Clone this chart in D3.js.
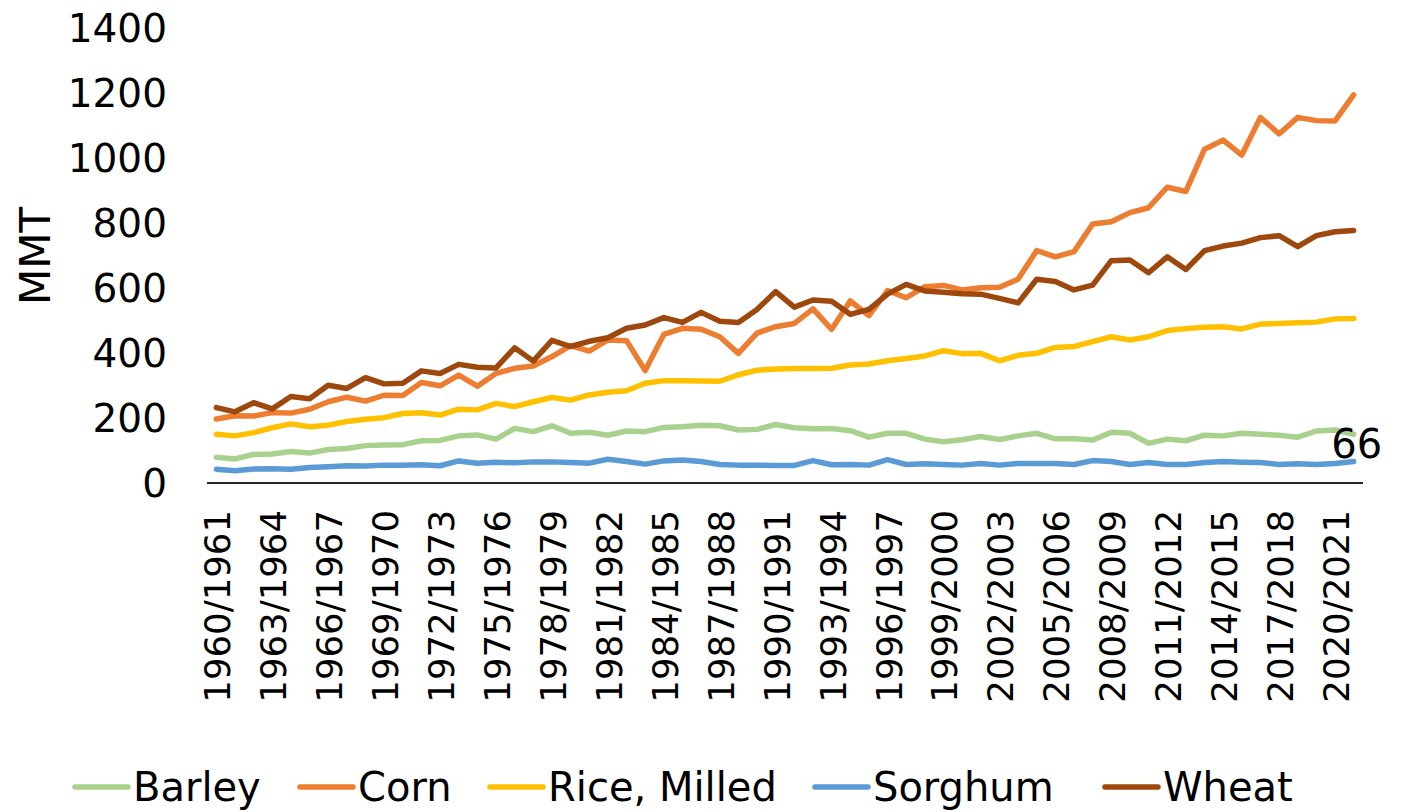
<!DOCTYPE html>
<html>

<head>
  <meta charset="utf-8">
  <script src="https://d3js.org/d3.v7.min.js"></script>
  <style>
    body { margin: 0; background: #fff; }
    text { font-family: "DejaVu Sans", sans-serif; fill: #000; }
  </style>
</head>

<body>
  <div id="my_dataviz"></div>
  <script>
    var years = ["1960/1961", "1961/1962", "1962/1963", "1963/1964", "1964/1965", "1965/1966", "1966/1967",
      "1967/1968", "1968/1969", "1969/1970", "1970/1971", "1971/1972", "1972/1973", "1973/1974", "1974/1975",
      "1975/1976", "1976/1977", "1977/1978", "1978/1979", "1979/1980", "1980/1981", "1981/1982", "1982/1983",
      "1983/1984", "1984/1985", "1985/1986", "1986/1987", "1987/1988", "1988/1989", "1989/1990", "1990/1991",
      "1991/1992", "1992/1993", "1993/1994", "1994/1995", "1995/1996", "1996/1997", "1997/1998", "1998/1999",
      "1999/2000", "2000/2001", "2001/2002", "2002/2003", "2003/2004", "2004/2005", "2005/2006", "2006/2007",
      "2007/2008", "2008/2009", "2009/2010", "2010/2011", "2011/2012", "2012/2013", "2013/2014", "2014/2015",
      "2015/2016", "2016/2017", "2017/2018", "2018/2019", "2019/2020", "2020/2021", "2021/2022"];

    var barley = [79, 74, 88, 89, 97, 92, 103, 106, 115, 117, 118, 130, 131, 145, 148, 135, 168, 158, 176, 153,
      156, 147, 160, 158, 171, 173, 178, 176, 163, 165, 180, 170, 167, 168, 161, 141, 153, 153, 135, 127,
      133, 143, 134, 145, 153, 136, 136, 132, 156, 153, 122, 135, 130, 147, 145, 153, 150, 147, 141, 160, 163, 150];
    var corn = [197, 207, 206, 217, 215, 227, 250, 264, 252, 270, 269, 309, 299, 332, 298, 337, 353, 360, 389, 423,
      406, 440, 438, 346, 457, 476, 473, 450, 399, 461, 481, 491, 536, 473, 560, 515, 592, 570, 604, 608,
      594, 601, 602, 627, 715, 696, 712, 797, 804, 832, 847, 910, 897, 1027, 1055, 1009, 1125, 1074, 1125, 1115, 1114, 1194];
    var rice = [150, 145, 155, 170, 182, 173, 178, 189, 196, 201, 214, 216, 209, 227, 225, 245, 235, 250, 263, 255,
      271, 279, 284, 307, 315, 315, 314, 313, 333, 347, 351, 352, 352, 353, 363, 366, 376, 383, 391, 407,
      398, 399, 376, 393, 399, 417, 420, 435, 450, 440, 450, 469, 475, 479, 481, 474, 489, 491, 493, 495, 505, 506];
    var sorghum = [42, 38, 43, 44, 42, 48, 50, 53, 52, 55, 55, 56, 53, 68, 61, 64, 62, 65, 65, 63,
      61, 73, 66, 58, 68, 71, 66, 57, 55, 55, 54, 54, 69, 56, 57, 55, 72, 57, 59, 57,
      55, 60, 55, 60, 60, 60, 57, 69, 66, 57, 63, 57, 57, 63, 66, 64, 63, 57, 59, 57, 60, 66];
    var wheat = [232, 219, 247, 228, 266, 259, 301, 291, 324, 305, 307, 345, 337, 365, 356, 354, 416, 375, 439, 420,
      436, 447, 476, 486, 509, 494, 525, 498, 494, 534, 589, 541, 563, 559, 519, 534, 581, 611, 591, 587,
      582, 581, 568, 554, 627, 620, 594, 609, 684, 686, 647, 696, 657, 715, 729, 738, 755, 761, 727, 761, 773, 777];

    var seriesNames = ["Barley", "Corn", "Rice, Milled", "Sorghum", "Wheat"];
    var seriesColors = ["#A9D18E", "#ED7D31", "#FFC000", "#5B9BD5", "#9E480E"];
    var seriesValues = [barley, corn, rice, sorghum, wheat];
    var yTicks = [0, 200, 400, 600, 800, 1000, 1200, 1400];

    var margin = { top: 28, right: 41, bottom: 329, left: 207 },
      width = 1404 - margin.left - margin.right,
      height = 812 - margin.top - margin.bottom;

    var svg = d3.select("#my_dataviz")
      .append("svg")
      .attr("width", 1404)
      .attr("height", 812);

    var g = svg.append("g")
      .attr("transform", "translate(" + margin.left + "," + margin.top + ")");

    var x = d3.scaleBand()
      .domain(years)
      .range([0, width]);

    var y = d3.scaleLinear()
      .domain([0, 1400])
      .range([height, 0]);

    // Y axis labels
    g.selectAll(".ytick")
      .data(yTicks)
      .enter()
      .append("text")
      .attr("x", -40)
      .attr("y", function (d) { return y(d); })
      .attr("dy", "0.36em")
      .attr("text-anchor", "end")
      .style("font-size", "39px")
      .text(function (d) { return d; });

    svg.append("text")
      .attr("transform", "translate(50,256)rotate(-90)")
      .attr("text-anchor", "middle")
      .style("font-size", "42px")
      .text("MMT");

    // Lines
    var line = d3.line()
      .x(function (d, i) { return x(years[i]) + x.bandwidth() / 2; })
      .y(function (d) { return y(d); });

    g.selectAll(".series")
      .data(seriesValues)
      .enter()
      .append("path")
      .attr("d", function (d) { return line(d); })
      .attr("fill", "none")
      .attr("stroke", function (d, i) { return seriesColors[i]; })
      .attr("stroke-width", 5.5)
      .attr("stroke-linejoin", "round")
      .attr("stroke-linecap", "round");

    // X axis
    g.append("line")
      .attr("x1", 0)
      .attr("x2", width)
      .attr("y1", height)
      .attr("y2", height)
      .attr("stroke", "#262626")
      .attr("stroke-width", 2);

    g.selectAll(".xtick")
      .data(years.filter(function (d, i) { return i % 3 === 0; }))
      .enter()
      .append("text")
      .attr("transform", function (d) {
        return "translate(" + (x(d) + x.bandwidth() / 2 + 14) + "," + (height + 27) + ")rotate(-90)";
      })
      .attr("text-anchor", "end")
      .style("font-size", "35.5px")
      .text(function (d) { return d; });

    // data label on the last sorghum point
    var last = years.length - 1;
    g.append("text")
      .attr("x", x(years[last]) + x.bandwidth() / 2 + 3)
      .attr("y", y(sorghum[last]) - 4)
      .attr("text-anchor", "middle")
      .style("font-size", "40px")
      .text(sorghum[last]);

    // Legend
    var legendX = [75, 300, 490, 815, 1105];
    var legend = svg.selectAll(".legend")
      .data(seriesNames)
      .enter()
      .append("g")
      .attr("transform", function (d, i) { return "translate(" + legendX[i] + ",787)"; });

    legend.append("line")
      .attr("x1", 0)
      .attr("x2", 53)
      .attr("stroke", function (d, i) { return seriesColors[i]; })
      .attr("stroke-width", 5.5)
      .attr("stroke-linecap", "round");

    legend.append("text")
      .attr("x", 58)
      .attr("dy", "0.34em")
      .style("font-size", "40px")
      .text(function (d) { return d; });
  </script>
</body>

</html>
